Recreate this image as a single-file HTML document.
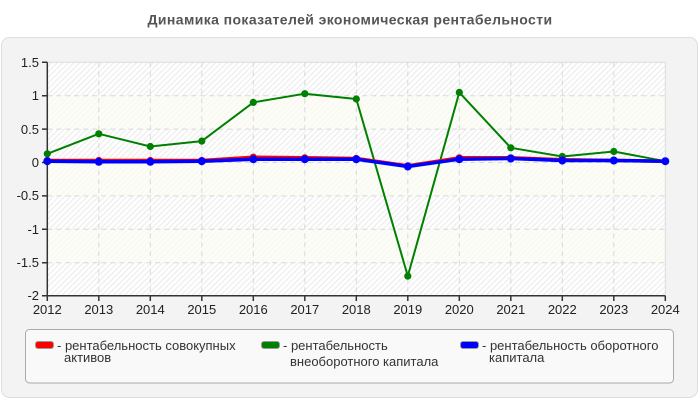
<!DOCTYPE html>
<html><head><meta charset="utf-8"><style>
html,body{margin:0;padding:0;background:#fff;}
svg{display:block;font-family:"Liberation Sans",Arial,sans-serif;}
</style></head><body>
<svg width="700" height="400" viewBox="0 0 700 400" xmlns="http://www.w3.org/2000/svg">
<defs>
<pattern id="hatch" patternUnits="userSpaceOnUse" width="4" height="4" patternTransform="rotate(45)">
<rect width="4" height="4" fill="#ffffff"/>
<rect width="1.5" height="4" fill="#f0f0f0"/>
</pattern>
<pattern id="hatch2" patternUnits="userSpaceOnUse" width="4" height="4" patternTransform="rotate(45)">
<rect width="4" height="4" fill="#fdfdf8"/>
<rect width="1.5" height="4" fill="#f9f9f2"/>
</pattern>
</defs>
<rect x="0" y="0" width="700" height="400" fill="#fff"/>
<text x="350" y="24.5" text-anchor="middle" font-size="14" letter-spacing="0.4" font-weight="bold" fill="#555">Динамика показателей экономическая рентабельности</text>
<rect x="1.5" y="37.5" width="696" height="360" rx="8" ry="8" fill="#f3f3f3" stroke="#dedede"/>
<!-- plot bands -->
<rect x="47.3" y="62.3" width="618" height="33.4" fill="url(#hatch)"/>
<rect x="47.3" y="95.7" width="618" height="33.4" fill="url(#hatch2)"/>
<rect x="47.3" y="129.1" width="618" height="33.4" fill="url(#hatch)"/>
<rect x="47.3" y="162.5" width="618" height="33.4" fill="url(#hatch2)"/>
<rect x="47.3" y="195.9" width="618" height="33.4" fill="url(#hatch)"/>
<rect x="47.3" y="229.3" width="618" height="33.4" fill="url(#hatch2)"/>
<rect x="47.3" y="262.7" width="618" height="33.4" fill="url(#hatch)"/>
<rect x="47.3" y="62.3" width="618" height="233.5" fill="none" stroke="#dddddd" stroke-width="1"/>
<!-- grid -->
<g stroke="#d8d8d8" stroke-width="1" stroke-dasharray="5,4" fill="none">
<path d="M47.3 95.7H665.3M47.3 129.1H665.3M47.3 162.5H665.3M47.3 195.9H665.3M47.3 229.3H665.3M47.3 262.7H665.3"/>
<path d="M98.8 62.3V295.8M150.3 62.3V295.8M201.8 62.3V295.8M253.3 62.3V295.8M304.8 62.3V295.8M356.3 62.3V295.8M407.8 62.3V295.8M459.3 62.3V295.8M510.8 62.3V295.8M562.3 62.3V295.8M613.8 62.3V295.8"/>
</g>
<!-- axes -->
<g stroke="#333" stroke-width="1.5" fill="none">
<path d="M47.3 62.3V295.8H665.3"/>
<path d="M42 62.3H47.3M42 95.7H47.3M42 129.1H47.3M42 162.5H47.3M42 195.9H47.3M42 229.3H47.3M42 262.7H47.3M42 295.8H47.3"/>
<path d="M47.3 295.8V301M98.8 295.8V301M150.3 295.8V301M201.8 295.8V301M253.3 295.8V301M304.8 295.8V301M356.3 295.8V301M407.8 295.8V301M459.3 295.8V301M510.8 295.8V301M562.3 295.8V301M613.8 295.8V301M665.3 295.8V301"/>
</g>
<g font-size="13" fill="#222" text-anchor="end">
<text x="39" y="67">1.5</text>
<text x="39" y="100">1</text>
<text x="39" y="134">0.5</text>
<text x="39" y="167">0</text>
<text x="39" y="200">-0.5</text>
<text x="39" y="234">-1</text>
<text x="39" y="267">-1.5</text>
<text x="39" y="300">-2</text>
</g>
<g font-size="13" fill="#222" text-anchor="middle">
<text x="47.3" y="314">2012</text>
<text x="98.8" y="314">2013</text>
<text x="150.3" y="314">2014</text>
<text x="201.8" y="314">2015</text>
<text x="253.3" y="314">2016</text>
<text x="304.8" y="314">2017</text>
<text x="356.3" y="314">2018</text>
<text x="407.8" y="314">2019</text>
<text x="459.3" y="314">2020</text>
<text x="510.8" y="314">2021</text>
<text x="562.3" y="314">2022</text>
<text x="613.8" y="314">2023</text>
<text x="665.3" y="314">2024</text>
</g>
<!-- green series -->
<polyline fill="none" stroke="#008000" stroke-width="2" stroke-linejoin="round" points="47.3,153.8 98.8,133.8 150.3,146.5 201.8,141.1 253.3,102.4 304.8,93.7 356.3,99 407.8,276.1 459.3,92.4 510.8,147.8 562.3,156.5 613.8,151.5 665.3,161.2"/>
<g fill="#008000">
<circle cx="47.3" cy="153.8" r="3.6"/><circle cx="98.8" cy="133.8" r="3.6"/><circle cx="150.3" cy="146.5" r="3.6"/><circle cx="201.8" cy="141.1" r="3.6"/><circle cx="253.3" cy="102.4" r="3.6"/><circle cx="304.8" cy="93.7" r="3.6"/><circle cx="356.3" cy="99" r="3.6"/><circle cx="407.8" cy="276.1" r="3.6"/><circle cx="459.3" cy="92.4" r="3.6"/><circle cx="510.8" cy="147.8" r="3.6"/><circle cx="562.3" cy="156.5" r="3.6"/><circle cx="613.8" cy="151.5" r="3.6"/><circle cx="665.3" cy="161.2" r="3.6"/>
</g>
<!-- red series -->
<polyline fill="none" stroke="#ff0000" stroke-width="3.5" stroke-linejoin="round" points="47.3,160.5 98.8,160.5 150.3,160.5 201.8,160.5 253.3,157.2 304.8,157.8 356.3,158.5 407.8,165.8 459.3,157.8 510.8,157.8 562.3,159.8 613.8,160.5 665.3,161.2"/>
<g fill="#ff0000">
<circle cx="47.3" cy="160.5" r="3.6"/><circle cx="98.8" cy="160.5" r="3.6"/><circle cx="150.3" cy="160.5" r="3.6"/><circle cx="201.8" cy="160.5" r="3.6"/><circle cx="253.3" cy="157.2" r="3.6"/><circle cx="304.8" cy="157.8" r="3.6"/><circle cx="356.3" cy="158.5" r="3.6"/><circle cx="407.8" cy="165.8" r="3.6"/><circle cx="459.3" cy="157.8" r="3.6"/><circle cx="510.8" cy="157.8" r="3.6"/><circle cx="562.3" cy="159.8" r="3.6"/><circle cx="613.8" cy="160.5" r="3.6"/><circle cx="665.3" cy="161.2" r="3.6"/>
</g>
<!-- blue series -->
<polyline fill="none" stroke="#0000ff" stroke-width="3.5" stroke-linejoin="round" points="47.3,161.2 98.8,161.8 150.3,161.8 201.8,161.2 253.3,159.2 304.8,159.2 356.3,159.2 407.8,166.5 459.3,159.2 510.8,158.5 562.3,160.5 613.8,160.5 665.3,161.2"/>
<g fill="#0000ff">
<circle cx="47.3" cy="161.2" r="4"/><circle cx="98.8" cy="161.8" r="4"/><circle cx="150.3" cy="161.8" r="4"/><circle cx="201.8" cy="161.2" r="4"/><circle cx="253.3" cy="159.2" r="4"/><circle cx="304.8" cy="159.2" r="4"/><circle cx="356.3" cy="159.2" r="4"/><circle cx="407.8" cy="166.5" r="4"/><circle cx="459.3" cy="159.2" r="4"/><circle cx="510.8" cy="158.5" r="4"/><circle cx="562.3" cy="160.5" r="4"/><circle cx="613.8" cy="160.5" r="4"/><circle cx="665.3" cy="161.2" r="4"/>
</g>
<!-- legend -->
<rect x="25.5" y="329.5" width="648" height="53.5" rx="4" ry="4" fill="#f9f9f9" stroke="#aaaaaa"/>
<rect x="35.5" y="341.5" width="18" height="7" rx="2.5" ry="2.5" fill="#ff0000" stroke="#999" stroke-width="1"/>
<rect x="261.5" y="341.5" width="18" height="7" rx="2.5" ry="2.5" fill="#008000" stroke="#999" stroke-width="1"/>
<rect x="460.5" y="341.5" width="18" height="7" rx="2.5" ry="2.5" fill="#0000ff" stroke="#999" stroke-width="1"/>
<g font-size="13" fill="#333">
<text x="57" y="350">- рентабельность совокупных</text>
<text x="64" y="362">активов</text>
<text x="283" y="350">- рентабельность</text>
<text x="290" y="366">внеоборотного капитала</text>
<text x="482" y="350">- рентабельность оборотного</text>
<text x="489" y="362">капитала</text>
</g>
</svg>
</body></html>
